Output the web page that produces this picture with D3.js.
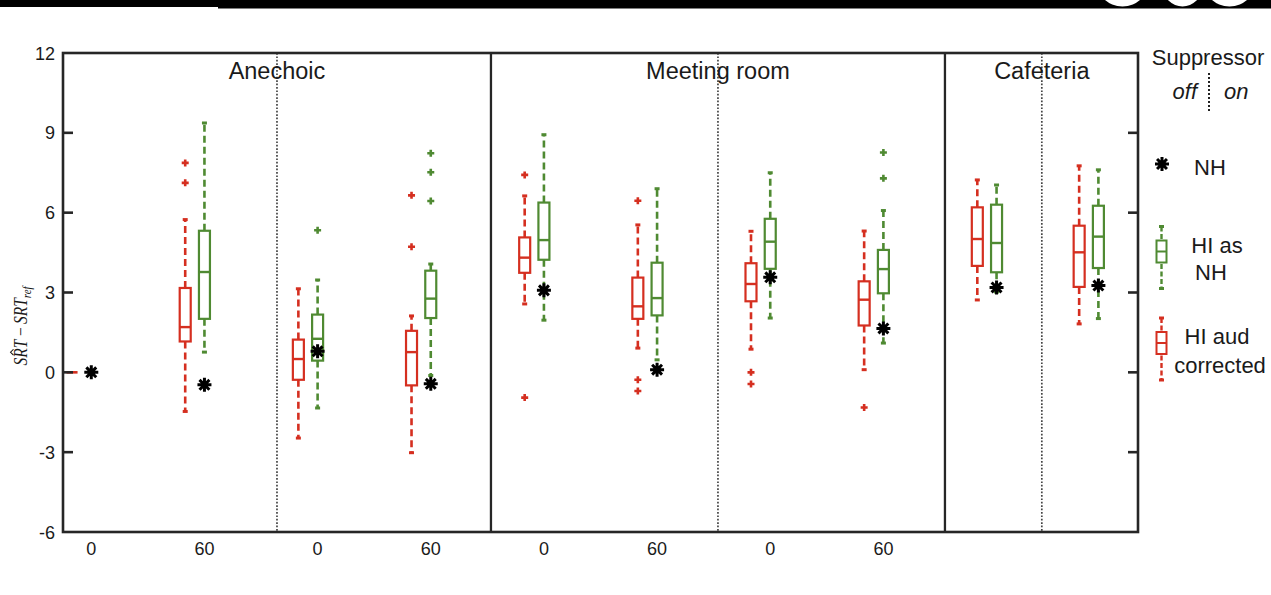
<!DOCTYPE html>
<html lang="en">
<head>
<meta charset="utf-8">
<title>SRT boxplots</title>
<script src="https://d3js.org/d3.v7.min.js"></script>
<style>
  body { margin: 0; background: #fff; }
  text { font-family: "Liberation Sans", Arial, sans-serif; fill: #1a1a1a; }
</style>
</head>
<body>
<div id="chart"></div>
<script>
// positions of each condition on the x axis (slot units)
const groupPos = [0, 1, 2, 3, 4, 5, 6, 7, 8, 8.9];
const tickPos = [0, 1, 2, 3, 4, 5, 6, 7];
const tickLabels = ["0", "60", "0", "60", "0", "60", "0", "60"];
const yTicks = [-6, -3, 0, 3, 6, 9, 12];

const roomNames = ["Anechoic", "Meeting room", "Cafeteria"];
const roomSplit = [1.641, 5.538, 8.40];   // dotted lines: suppressor off | on
const roomBorders = [3.532, 7.544];        // solid lines between rooms

// [lower whisker, q1, median, q3, upper whisker]
const redStats = [
  [0, 0, 0, 0, 0],
  [-1.47, 1.16, 1.70, 3.17, 5.74],
  [-2.47, -0.28, 0.50, 1.23, 3.14],
  [-3.02, -0.49, 0.76, 1.56, 2.12],
  [2.57, 3.74, 4.31, 5.07, 6.63],
  [0.91, 2.01, 2.48, 3.56, 5.54],
  [0.87, 2.67, 3.32, 4.10, 5.30],
  [0.10, 1.76, 2.73, 3.42, 5.31],
  [2.72, 4.00, 5.01, 6.20, 7.23],
  [1.82, 3.21, 4.51, 5.51, 7.76]
];
const redOutliers = [
  [], [7.87, 7.12], [], [6.65, 4.72], [7.42, -0.95],
  [6.45, -0.28, -0.70], [0.0, -0.44], [-1.32], [], []
];
const greenStats = [
  null,
  [0.76, 2.01, 3.77, 5.32, 9.37],
  [-1.34, 0.44, 1.26, 2.17, 3.47],
  [-0.12, 2.04, 2.77, 3.82, 4.07],
  [1.96, 4.23, 4.97, 6.38, 8.93],
  [0.47, 2.14, 2.79, 4.12, 6.90],
  [2.04, 3.89, 4.91, 5.77, 7.50],
  [1.10, 2.97, 3.88, 4.60, 6.08],
  [3.02, 3.76, 4.86, 6.30, 7.04],
  [2.02, 3.92, 5.10, 6.26, 7.61]
];
const greenOutliers = [
  [], [], [5.34], [8.23, 7.52, 6.44], [], [], [], [8.26, 7.29], [], []
];
const nhStar = [0, -0.47, 0.79, -0.43, 3.08, 0.10, 3.57, 1.65, 3.19, 3.26];

const RED = "#d52f20", GREEN = "#4f8a32", AXIS = "#262626";

const W = 1271, H = 595;
const margin = {top: 53, right: 133, bottom: 63, left: 63};

const svg = d3.select("#chart").append("svg")
  .attr("width", W).attr("height", H);

// cropped page strip at the very top
svg.append("rect").attr("x", 0).attr("y", 0).attr("width", 218).attr("height", 7).attr("fill", "#000");
svg.append("rect").attr("x", 218).attr("y", 0).attr("width", W - 218).attr("height", 8.5).attr("fill", "#000");
[[1122.5, 26.8, 20.3], [1182.5, 19.4, 12.9], [1229.5, 26.8, 20.3]].forEach(c =>
  svg.append("circle").attr("cx", c[0]).attr("cy", -c[2]).attr("r", c[1]).attr("fill", "#fff"));

const x = d3.scaleLinear().domain([-0.25, 9.25]).range([margin.left, W - margin.right]);
const y = d3.scaleLinear().domain([-6, 12]).range([H - margin.bottom, margin.top]);
const redOff = -0.17;
const bw = 11;

// separators
svg.selectAll(".split").data(roomSplit).join("line")
  .attr("x1", d => x(d)).attr("x2", d => x(d))
  .attr("y1", y(12)).attr("y2", y(-6))
  .attr("stroke", "#444").attr("stroke-width", 1.7).attr("stroke-dasharray", "1.7,1.7");
svg.selectAll(".border").data(roomBorders).join("line")
  .attr("x1", d => x(d)).attr("x2", d => x(d))
  .attr("y1", y(12)).attr("y2", y(-6))
  .attr("stroke", AXIS).attr("stroke-width", 2.3);

// room titles
svg.selectAll(".room").data(roomNames).join("text")
  .attr("x", (d, i) => x(roomSplit[i])).attr("y", 79)
  .attr("text-anchor", "middle").attr("font-size", 23.5).text(d => d);

// boxplot drawing
function drawBox(g, cx, s, color) {
  g.append("line").attr("x1", cx).attr("x2", cx).attr("y1", y(s[3])).attr("y2", y(s[4]))
    .attr("stroke", color).attr("stroke-width", 2.6).attr("stroke-dasharray", "7,4");
  g.append("line").attr("x1", cx).attr("x2", cx).attr("y1", y(s[1])).attr("y2", y(s[0]))
    .attr("stroke", color).attr("stroke-width", 2.6).attr("stroke-dasharray", "7,4");
  [s[0], s[4]].forEach(v => g.append("line")
    .attr("x1", cx - 2.5).attr("x2", cx + 2.5).attr("y1", y(v)).attr("y2", y(v))
    .attr("stroke", color).attr("stroke-width", 3));
  g.append("rect").attr("x", cx - bw / 2).attr("width", bw)
    .attr("y", y(s[3])).attr("height", Math.max(0.01, y(s[1]) - y(s[3])))
    .attr("fill", "#fff").attr("stroke", color).attr("stroke-width", 2.2);
  g.append("line").attr("x1", cx - bw / 2).attr("x2", cx + bw / 2)
    .attr("y1", y(s[2])).attr("y2", y(s[2]))
    .attr("stroke", color).attr("stroke-width", 2.4);
}
function drawPlus(g, cx, cy, color) {
  g.append("path").attr("d", `M${cx - 3.5},${cy}H${cx + 3.5}M${cx},${cy - 3.5}V${cy + 3.5}`)
    .attr("stroke", color).attr("stroke-width", 2.6);
}
function drawStar(g, cx, cy) {
  const r = 7;
  let p = "";
  for (let k = 0; k < 4; k++) {
    const a = k * Math.PI / 4;
    p += `M${cx - r * Math.cos(a)},${cy - r * Math.sin(a)}L${cx + r * Math.cos(a)},${cy + r * Math.sin(a)}`;
  }
  g.append("path").attr("d", p).attr("stroke", "#000").attr("stroke-width", 3);
  g.append("circle").attr("cx", cx).attr("cy", cy).attr("r", 3.5).attr("fill", "#000");
}

const marks = svg.append("g");
groupPos.forEach((p, i) => {
  const rx = x(p + redOff), gx = x(p);
  if (i === 0) {
    marks.append("line").attr("x1", rx - bw / 2).attr("x2", rx + bw / 2)
      .attr("y1", y(0)).attr("y2", y(0)).attr("stroke", RED).attr("stroke-width", 2.6);
  } else {
    drawBox(marks, rx, redStats[i], RED);
  }
  redOutliers[i].forEach(v => drawPlus(marks, rx, y(v), RED));
  if (greenStats[i]) drawBox(marks, gx, greenStats[i], GREEN);
  greenOutliers[i].forEach(v => drawPlus(marks, gx, y(v), GREEN));
  drawStar(marks, gx, y(nhStar[i]));
});

// frame and ticks
svg.append("rect").attr("x", x(-0.25)).attr("y", y(12))
  .attr("width", x(9.25) - x(-0.25)).attr("height", y(-6) - y(12))
  .attr("fill", "none").attr("stroke", AXIS).attr("stroke-width", 2.6);

const inner = yTicks.filter(t => t > -6 && t < 12);
svg.selectAll(".ltick").data(inner).join("line")
  .attr("x1", x(-0.25)).attr("x2", x(-0.25) + 10).attr("y1", d => y(d)).attr("y2", d => y(d))
  .attr("stroke", AXIS).attr("stroke-width", 2.6);
svg.selectAll(".rtick").data(inner).join("line")
  .attr("x1", x(9.25)).attr("x2", x(9.25) - 10).attr("y1", d => y(d)).attr("y2", d => y(d))
  .attr("stroke", AXIS).attr("stroke-width", 2.6);

svg.selectAll(".ylab").data(yTicks).join("text")
  .attr("x", 55).attr("y", d => y(d) + 6.5)
  .attr("text-anchor", "end").attr("font-size", 18).text(d => d);

svg.selectAll(".xlab").data(tickPos).join("text")
  .attr("x", d => x(d)).attr("y", 555)
  .attr("text-anchor", "middle").attr("font-size", 18).text((d, i) => tickLabels[i]);

// y axis title: SRT-hat minus SRT_ref
const ytTransform = "translate(27,326) rotate(-90) scale(0.84,1)";
const yt = svg.append("text")
  .attr("transform", ytTransform)
  .attr("text-anchor", "middle")
  .style("font-family", "'Liberation Serif', 'DejaVu Serif', serif")
  .style("font-style", "italic").attr("font-size", 18.5);
yt.append("tspan").text("SRT");
yt.append("tspan").attr("dx", 3).text("\u2212");
yt.append("tspan").attr("dx", 3).text("SRT");
yt.append("tspan").attr("font-size", 13).attr("dy", 4).text("ref");
// hat over the first R
const node = yt.node();
const rStart = node.getStartPositionOfChar(1), rEnd = node.getEndPositionOfChar(1);
const hx = (rStart.x + rEnd.x) / 2 + 1;
svg.append("path")
  .attr("transform", ytTransform)
  .attr("d", `M${hx - 3.5},-13.5L${hx},-16.5L${hx + 3.5},-13.5`)
  .attr("fill", "none").attr("stroke", "#1a1a1a").attr("stroke-width", 1.1);

// legend
const lg = svg.append("g");
const lfs = 22;
lg.append("text").attr("x", 1208).attr("y", 65).attr("text-anchor", "middle").attr("font-size", lfs).text("Suppressor");
lg.append("text").attr("x", 1197).attr("y", 99).attr("text-anchor", "end").attr("font-size", lfs)
  .style("font-style", "italic").text("off");
lg.append("text").attr("x", 1224).attr("y", 99).attr("text-anchor", "start").attr("font-size", lfs)
  .style("font-style", "italic").text("on");
lg.append("line").attr("x1", 1209).attr("x2", 1209).attr("y1", 73).attr("y2", 112)
  .attr("stroke", "#222").attr("stroke-width", 2).attr("stroke-dasharray", "2,2");

drawStar(lg, 1162, 164);
lg.append("text").attr("x", 1210).attr("y", 175).attr("text-anchor", "middle").attr("font-size", lfs).text("NH");

function legendBox(cx, top, color) {
  const g = lg.append("g");
  g.append("line").attr("x1", cx).attr("x2", cx).attr("y1", top).attr("y2", top + 62)
    .attr("stroke", color).attr("stroke-width", 2.4).attr("stroke-dasharray", "5,2.5");
  [top, top + 62].forEach(v => g.append("line").attr("x1", cx - 2.5).attr("x2", cx + 2.5)
    .attr("y1", v).attr("y2", v).attr("stroke", color).attr("stroke-width", 3));
  g.append("rect").attr("x", cx - 5).attr("width", 10).attr("y", top + 14).attr("height", 22)
    .attr("fill", "#fff").attr("stroke", color).attr("stroke-width", 2);
  g.append("line").attr("x1", cx - 5).attr("x2", cx + 5).attr("y1", top + 25).attr("y2", top + 25)
    .attr("stroke", color).attr("stroke-width", 2);
}
legendBox(1161.5, 226.5, GREEN);
legendBox(1161.5, 318, RED);
lg.append("text").attr("x", 1217).attr("y", 253).attr("text-anchor", "middle").attr("font-size", lfs).text("HI as");
lg.append("text").attr("x", 1211).attr("y", 280).attr("text-anchor", "middle").attr("font-size", lfs).text("NH");
lg.append("text").attr("x", 1217).attr("y", 344).attr("text-anchor", "middle").attr("font-size", lfs).text("HI aud");
lg.append("text").attr("x", 1220).attr("y", 373).attr("text-anchor", "middle").attr("font-size", lfs).text("corrected");
</script>
</body>
</html>
